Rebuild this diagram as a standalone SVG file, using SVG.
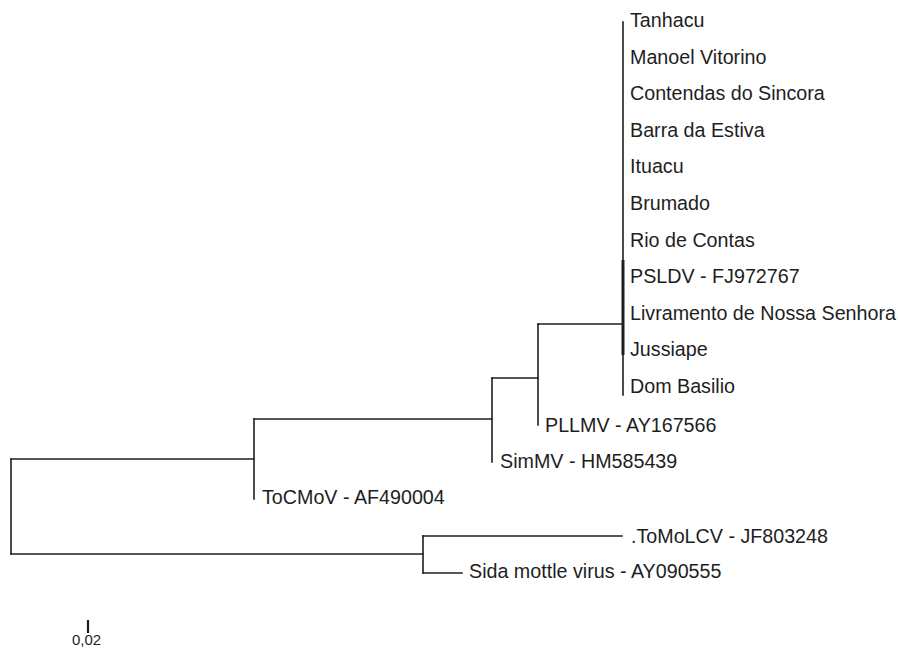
<svg xmlns="http://www.w3.org/2000/svg" width="898" height="652" viewBox="0 0 898 652">
<style>
.br{fill:none;stroke:#1e1e1e;stroke-width:1.6;stroke-linecap:square}
.thick{fill:none;stroke:#1e1e1e;stroke-width:3}
.lb{font-family:"Liberation Sans",Arial,sans-serif;font-size:19.7px;fill:#1e1e1e}
.sc{font-family:"Liberation Sans",Arial,sans-serif;font-size:15px;fill:#1e1e1e}
</style>
<rect width="898" height="652" fill="#fff"/>
<g id="connectors">
<path class="br" d="M11,459 V554"/>
<path class="br" d="M11,459 H254"/>
<path class="br" d="M11,554 H423"/>
<path class="br" d="M254,419 V499"/>
<path class="br" d="M254,419 H492"/>
<path class="br" d="M492,378 V462"/>
<path class="br" d="M492,378 H538"/>
<path class="br" d="M538,324 V425"/>
<path class="br" d="M538,324 H623"/>
<path class="br" d="M623,22 V395"/>
<path class="thick" d="M623,260 V355"/>
<path class="br" d="M423,536 V573"/>
<path class="br" d="M423,536 H622"/>
<path class="br" d="M423,573 H462"/>
</g>
<g id="n-tanhacu"><text class="lb" x="630" y="27">Tanhacu</text></g>
<g id="n-manoel"><text class="lb" x="630" y="64">Manoel Vitorino</text></g>
<g id="n-contendas"><text class="lb" x="630" y="100">Contendas do Sincora</text></g>
<g id="n-barra"><text class="lb" x="630" y="137">Barra da Estiva</text></g>
<g id="n-ituacu"><text class="lb" x="630" y="173">Ituacu</text></g>
<g id="n-brumado"><text class="lb" x="630" y="210">Brumado</text></g>
<g id="n-rio"><text class="lb" x="630" y="247">Rio de Contas</text></g>
<g id="n-psldv"><text class="lb" x="630" y="283">PSLDV - FJ972767</text></g>
<g id="n-livramento"><text class="lb" x="630" y="320">Livramento de Nossa Senhora</text></g>
<g id="n-jussiape"><text class="lb" x="630" y="356">Jussiape</text></g>
<g id="n-dom"><text class="lb" x="630" y="393">Dom Basilio</text></g>
<g id="n-pllmv"><text class="lb" x="545" y="432">PLLMV - AY167566</text></g>
<g id="n-simmv"><text class="lb" x="500" y="468">SimMV - HM585439</text></g>
<g id="n-tocmov"><text class="lb" x="262" y="504">ToCMoV - AF490004</text></g>
<g id="n-tomolcv"><text class="lb" x="631" y="543">.ToMoLCV - JF803248</text></g>
<g id="n-sida"><text class="lb" x="469" y="578">Sida mottle virus - AY090555</text></g>
<g id="scale">
<path d="M88,620 V633" stroke="#1e1e1e" stroke-width="2.2"/>
<text class="sc" x="72" y="645">0,02</text>
</g>
</svg>
